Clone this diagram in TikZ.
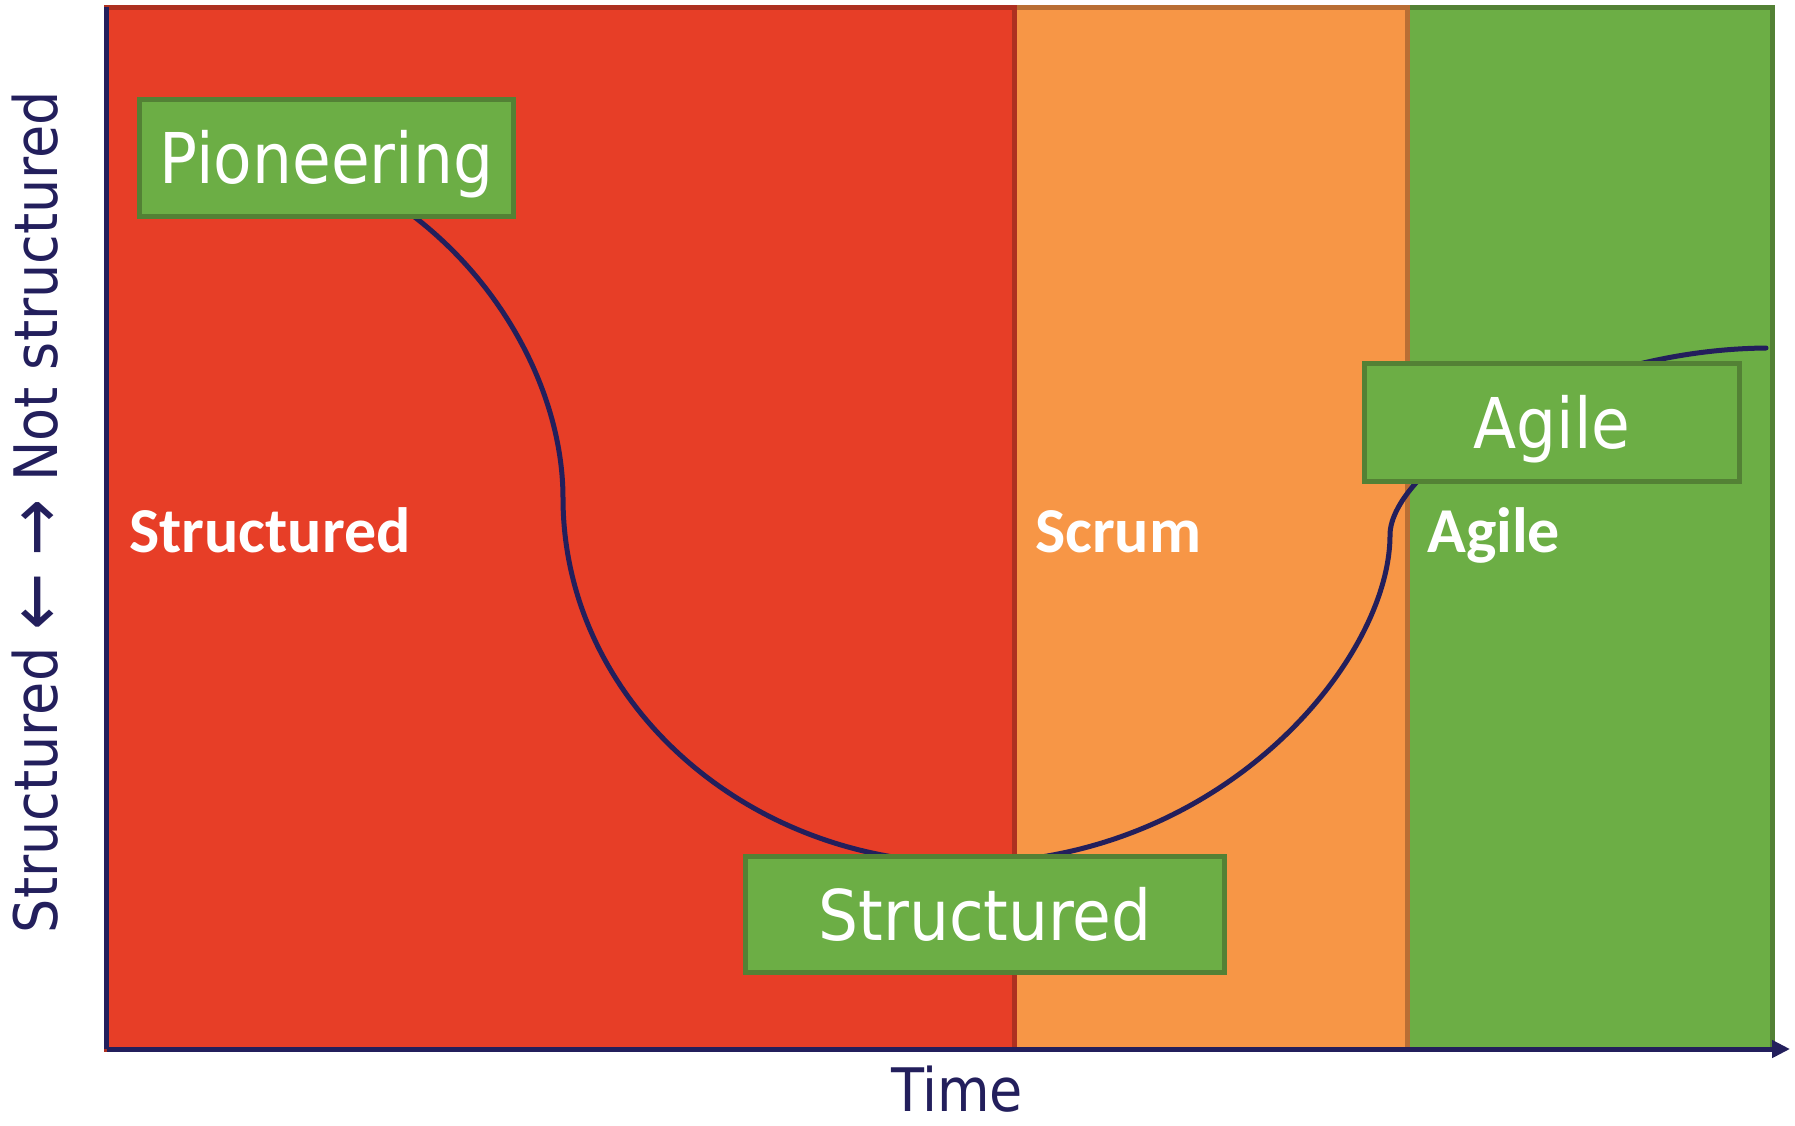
\documentclass[tikz,border=0pt]{standalone}
\usepackage{fontspec}
\setmainfont{DejaVu Sans Condensed}
\newfontfamily\labfont{Carlito}
\usetikzlibrary{arrows.meta}
\definecolor{navy}{RGB}{35,31,92}
\definecolor{redfill}{RGB}{231,62,39}
\definecolor{redline}{RGB}{174,48,32}
\definecolor{orfill}{RGB}{247,150,70}
\definecolor{orline}{RGB}{185,110,52}
\definecolor{grfill}{RGB}{108,174,69}
\definecolor{grline}{RGB}{83,129,53}
\newcommand{\bigarrow}[1]{{\fontsize{76}{76}\selectfont\raisebox{-4pt}{#1}}}
\begin{document}
\begin{tikzpicture}[x=1pt,y=-1pt,
  region/.style={line width=5pt},
  phasebox/.style={draw=grline, fill=grfill, line width=5pt, inner sep=0pt,
     text=white, text height=51pt, text depth=0pt,
     font=\fontsize{70}{84}\selectfont},
  zonelabel/.style={text=white, inner sep=0pt, anchor=base west,
     font=\labfont\bfseries\fontsize{64}{76}\selectfont},
  axislabel/.style={text=navy, inner sep=0pt, anchor=base,
     font=\fontsize{60}{72}\selectfont},
  curve/.style={draw=navy, line width=5pt, line cap=round},
  axis/.style={draw=navy, line width=5pt}]
\useasboundingbox (0,0) rectangle (1795,1125);
% regions
\draw[region, fill=grfill, draw=grline] (1407,7) rectangle (1772,1049);
\draw[region, fill=orfill, draw=orline] (1014,7) rectangle (1407,1049);
\draw[region, fill=redfill, draw=redline] (106.5,7) rectangle (1014,1049);
% curve
\coordinate (c0) at (412,215);
\coordinate (c1) at (563,498);
\coordinate (c2) at (966,863);
\coordinate (c3) at (1390,535);
\coordinate (c4) at (1766,348);
\draw[curve] (c0) .. controls (508,288) and (563,400) .. (c1)
  .. controls (563,700) and (745,863) .. (c2)
  .. controls (1222,863) and (1390,660) .. (c3)
  .. controls (1390,470) and (1560,350) .. (c4);
% phase boxes
\node[phasebox, minimum width=374pt, minimum height=117pt] (pio) at (326.5,158) {Pioneering};
\node[phasebox, minimum width=479pt, minimum height=116pt] (str) at (985,914.5) {Structured};
\node[phasebox, minimum width=375pt, minimum height=118pt] (agi) at (1552,422.5) {Agile};
% zone labels
\node[zonelabel] (zstr) at (129,552) {Structured};
\node[zonelabel] (zscr) at (1035,552) {Scrum};
\node[zonelabel] (zagi) at (1427,552) {Agile};
% axes
\coordinate (o) at (106.5,1049);
\coordinate (ytop) at (106.5,7);
\coordinate (xend) at (1790,1049);
\draw[axis] (ytop) -- (o);
\draw[axis, -{Triangle[length=18pt,width=17pt]}] (o) -- (xend);
\node[axislabel, rotate=90] (ylab) at (57,512) {Structured \bigarrow{←} \bigarrow{→} Not structured};
\node[axislabel] (tlab) at (957,1111) {Time};
\end{tikzpicture}
\end{document}
